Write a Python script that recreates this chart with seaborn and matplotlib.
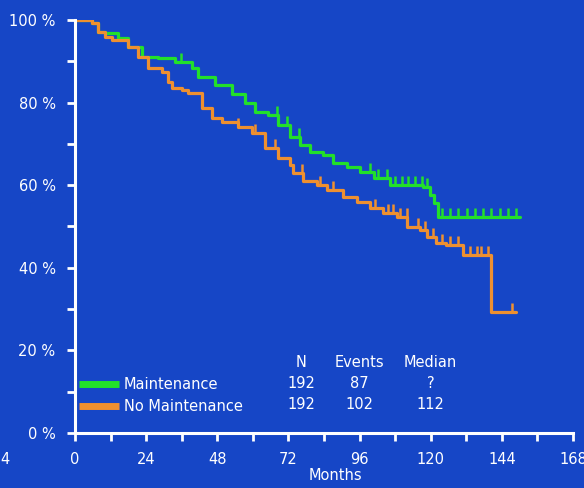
import matplotlib
matplotlib.use("Agg")
import matplotlib.pyplot as plt
import numpy as np
import seaborn as sns
from matplotlib.path import Path

# Kaplan-Meier step points (months, % surviving)
maint_t = [0, 3.4, 5.6, 7.9, 10.1, 14.6, 18, 22.5, 28.1, 33.7, 39.4, 41.6,
           47.2, 52.9, 57.4, 60.7, 65.2, 68.6, 72.5, 76, 79.3, 83.8, 87.2,
           91.7, 96.2, 100.7, 106.3, 117.5, 119.8, 121, 122.6, 150.2]
maint_s = [100, 99.9, 99.2, 97.2, 96.8, 95.6, 93.5, 91.1, 90.7, 89.9, 88.3,
           86.3, 84.3, 82.2, 79.8, 77.8, 77, 74.6, 71.7, 69.8, 68.1, 67.3,
           65.3, 64.5, 63.3, 61.7, 60.1, 59.6, 57.6, 55.6, 52.4, 52.4]
nomaint_t = [0, 3.4, 5.6, 7.9, 10.1, 12.4, 18, 21.4, 24.7, 29.2, 31.5, 32.6,
             36, 38.2, 42.7, 46.1, 49.5, 55.1, 59.6, 64.1, 68.6, 72.5, 73.7,
             77, 81.5, 84.9, 90.5, 95, 99.5, 104, 108.5, 112, 116.3, 118.6,
             121.9, 125.3, 130.9, 140.5, 148.9]
nomaint_s = [100, 99.9, 99.2, 97.2, 95.9, 95.2, 93.5, 91.1, 88.3, 87.5, 85.1,
             83.5, 83.1, 82.3, 78.6, 76.2, 75.4, 74.2, 72.6, 68.9, 66.5, 64.9,
             62.9, 60.9, 60.1, 58.9, 57.2, 56, 54.4, 53.2, 52.4, 49.9, 49.2,
             47.5, 45.9, 45.5, 43.1, 29.4, 29.4]

# censored observations (months)
maint_cens = [35.8, 68, 71.4, 75.4, 99.6, 102.3, 105.1, 107.9, 110.2, 112.5,
              114.7, 117, 118.6, 123.7, 126.5, 129.3, 132.1, 134.9, 137.7,
              140.5, 143.3, 146.1, 148.9]
nomaint_cens = [55.1, 60.7, 67.5, 73.7, 76.5, 82.7, 87.2, 101.2, 105.7, 107.4,
                109.6, 111.9, 115.8, 118, 120.9, 123.7, 126.5, 129.3, 133.2,
                135.5, 137.1, 139.4, 147.3]

groups = ["Maintenance", "No Maintenance"]
n_pat = [192, 192]
events = [87, 102]
medians = ["?", "112"]

bg = "#1646c6"
green = "#22e02a"
orange = "#ee9030"

sns.set_style("ticks", {"axes.facecolor": bg, "figure.facecolor": bg,
                        "axes.edgecolor": "white", "xtick.color": "white",
                        "ytick.color": "white", "text.color": "white",
                        "axes.labelcolor": "white"})
plt.rcParams["font.family"] = ["DejaVu Sans"]
plt.rcParams["font.size"] = 10.5

fig = plt.figure(figsize=(5.84, 4.88), dpi=100)
ax = fig.add_axes([75 / 584, 55 / 488, 498 / 584, 413 / 488])


def step_at(times, surv, t):
    idx = np.searchsorted(times, t, side="right") - 1
    return np.asarray(surv)[idx]


tick = Path([(0, 0), (0, 1)], [Path.MOVETO, Path.LINETO])

for t, s, c, col, name in [(maint_t, maint_s, maint_cens, green, groups[0]),
                           (nomaint_t, nomaint_s, nomaint_cens, orange, groups[1])]:
    sns.lineplot(x=t, y=s, ax=ax, color=col, lw=2.3, drawstyle="steps-post",
                 label=name, estimator=None, sort=False)
    sns.scatterplot(x=c, y=step_at(t, s, c), ax=ax, marker=tick, s=150,
                    color=col, edgecolor=col, linewidth=1.8, legend=False,
                    zorder=3)

ax.set_xlim(0, 168)
ax.set_ylim(0, 100)
ax.set_xticks(range(0, 169, 24))
ax.set_xticks(range(12, 169, 24), minor=True)
ax.set_yticks(range(0, 101, 20))
ax.set_yticks(range(10, 100, 20), minor=True)
ax.set_yticklabels([f"{v} %" for v in range(0, 101, 20)])
ax.tick_params(which="both", length=6, width=2, pad=8)
sns.despine(ax=ax)
for sp in ["left", "bottom"]:
    ax.spines[sp].set_linewidth(2.2)
ax.set_ylabel("")
ax.set_xlabel("Months", labelpad=0)
ax.xaxis.set_label_coords(0.522, -0.085)

leg = ax.legend(loc="upper left", bbox_to_anchor=(0.0, 0.145), frameon=False,
                handlelength=2.7, handletextpad=0.35, labelspacing=0.45,
                borderpad=0, borderaxespad=0.3, labelcolor="white")
for h in leg.get_lines():
    h.set_linewidth(5)
    h.set_solid_capstyle("butt")

# summary table
ax.text(76.2, 17, "N", ha="center", va="center")
ax.text(95.8, 17, "Events", ha="center", va="center")
ax.text(120, 17, "Median", ha="center", va="center")
for row_y, n, e, m in zip([12.1, 6.8], n_pat, events, medians):
    ax.text(76.2, row_y, str(n), ha="center", va="center")
    ax.text(95.8, row_y, str(e), ha="center", va="center")
    ax.text(120, row_y, m, ha="center", va="center")

fig.text(0.0, 1 - 460 / 488, "4", ha="left", va="center", color="white",
         fontsize=10.5)

fig.savefig("out.png", dpi=100, facecolor=bg)
